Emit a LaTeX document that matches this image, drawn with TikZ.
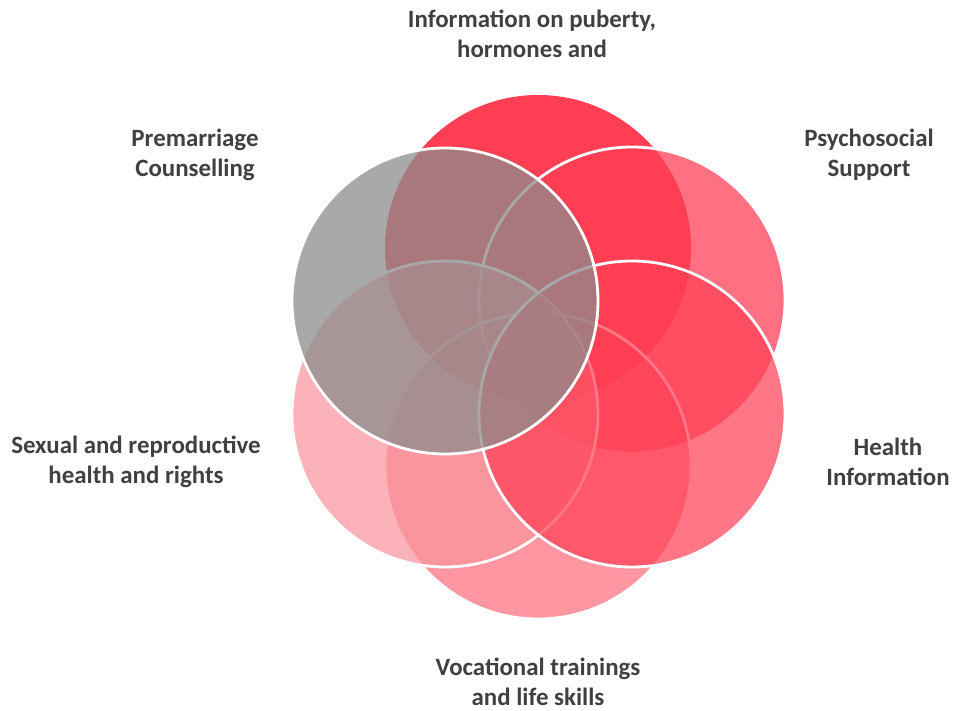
\documentclass[tikz,border=0pt]{standalone}
\usepackage{fontspec}
\setmainfont{Carlito}
\begin{document}
\begin{tikzpicture}[x=1bp,y=-1bp]
\useasboundingbox (0,0) rectangle (956,711);
\definecolor{redbase}{RGB}{255,61,83}
\definecolor{pinkbase}{RGB}{250,148,156}
\definecolor{graybase}{RGB}{140,140,140}
\definecolor{txt}{RGB}{64,64,64}
\tikzset{
  petal/.style={circle, minimum size=306bp, inner sep=0pt, draw=white, line width=2.8bp},
  lbl/.style={font=\bfseries\fontsize{25}{30}\selectfont, text=txt, align=center}
}
% circles, back to front
\node[petal, draw=none, fill=redbase] (ctop) at (538,248) {};
\node[petal, fill=redbase, fill opacity=0.73] (cur) at (632,300) {};
\node[petal, fill=redbase, fill opacity=0.54] (cbot) at (538,466) {};
\node[petal, fill=pinkbase, fill opacity=0.72] (cll) at (445,414) {};
\node[petal, fill=redbase, fill opacity=0.70] (clr) at (632,414) {};
\node[petal, fill=graybase, fill opacity=0.75] (cul) at (445,301) {};
% labels
\node[lbl] (ltop) at (532,34) {Information on puberty,\\hormones and};
\node[lbl] (lul) at (195,155) {Premarriage\\Counselling};
\node[lbl] (lur) at (869,155) {Psychosocial\\Support};
\node[lbl] (lll) at (136,462) {Sexual and reproductive\\health and rights};
\node[lbl] (llr) at (888,462) {Health\\Information};
\node[lbl] (lbot) at (538,682) {Vocational trainings\\and life skills};
\end{tikzpicture}
\end{document}
